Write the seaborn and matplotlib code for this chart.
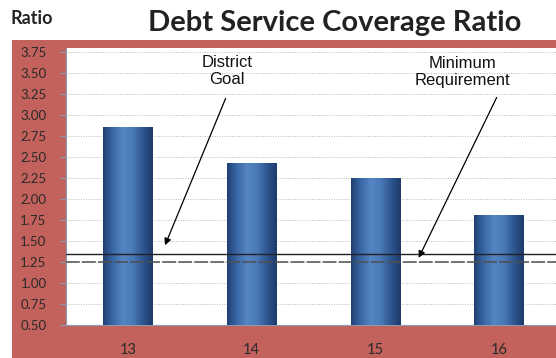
import numpy as np
import pandas as pd
import matplotlib
matplotlib.use("Agg")
import matplotlib.pyplot as plt
import seaborn as sns
from matplotlib.patches import Rectangle
from matplotlib.colors import LinearSegmentedColormap

# Fiscal years and coverage ratios
years = ["13", "14", "15", "16"]
ratios = [2.85, 2.42, 2.25, 1.80]

# Reference levels
district_goal = 1.35
minimum_requirement = 1.25

y_ticks = [0.50, 0.75, 1.00, 1.25, 1.50, 1.75, 2.00, 2.25, 2.50, 2.75, 3.00, 3.25, 3.50, 3.75]

df = pd.DataFrame({"year": years, "ratio": ratios})

sns.set_style("white")
plt.rcParams["font.family"] = ["Lato", "DejaVu Sans"]

fig = plt.figure(figsize=(5.56, 3.58), dpi=100)
fig.patch.set_facecolor("white")

# Red panel behind the chart
fig.patches.append(Rectangle((12 / 556, 0), 1, (358 - 40) / 358,
                             transform=fig.transFigure, facecolor="#c3625c",
                             edgecolor="none", zorder=-5))

ax = fig.add_axes([66 / 556, 33 / 358, 495 / 556, 277 / 358])
ax.set_zorder(2)
ax.set_facecolor("white")

sns.barplot(data=df, x="year", y="ratio", color="#3f6eaf", width=0.4,
            saturation=1, ax=ax, zorder=3)

y_min, y_max = 0.5, 3.80
ax.set_xlim(-0.5, 3.5)
ax.set_ylim(y_min, y_max)

# Cylinder-like shading across each bar (visible part above the axis floor)
shade = LinearSegmentedColormap.from_list(
    "bar_shade", ["#1f3f72", "#3a68a6", "#5585c2", "#4a79b8", "#2d5690", "#1d3a6a"])
grad = np.linspace(0, 1, 256).reshape(1, -1)
for patch in list(ax.patches):
    x0, w = patch.get_x(), patch.get_width()
    top = patch.get_y() + patch.get_height()
    ax.imshow(grad, cmap=shade, aspect="auto",
              extent=[x0, x0 + w, y_min, top], zorder=4)
ax.set_xlim(-0.5, 3.5)
ax.set_ylim(y_min, y_max)

ax.set_yticks(y_ticks)
ax.set_yticklabels([f"{v:.2f}" for v in y_ticks], fontsize=9.5, color="#2a2a2a")
ax.set_xticks(range(len(years)))
ax.set_xticklabels(years, fontsize=10.5, color="#2a2a2a")
ax.tick_params(axis="y", which="both", length=4, color="#8a9bb0", pad=10, left=True)
ax.tick_params(axis="x", length=0, pad=13)
ax.set_xticks([0.5, 1.5, 2.5], minor=True)
ax.tick_params(axis="x", which="minor", length=3, color="#8a9bb0")
ax.set_xlabel("")
ax.set_ylabel("")

for v in y_ticks:
    ax.axhline(v, color="#b8b8b8", lw=0.7, ls=(0, (1, 1.5)), zorder=1)

for s in ["top", "right"]:
    ax.spines[s].set_visible(False)
for s in ["left", "bottom"]:
    ax.spines[s].set_color("#8a9bb0")
    ax.spines[s].set_linewidth(0.8)

ax.axhline(district_goal, color="#222222", lw=1.0, zorder=5)
ax.axhline(minimum_requirement, color="#505050", lw=1.1, ls=(0, (9, 1.5)), zorder=5)

# Callout labels and their arrows
label_kw = dict(ha="center", va="top", fontsize=12, family=["Liberation Sans"],
                linespacing=1.15, color="#111111", zorder=6)
ax.text(0.80, 3.72, "District\nGoal", **label_kw)
ax.text(2.70, 3.70, "Minimum\nRequirement", **label_kw)

arrow_kw = dict(arrowstyle="-|>", color="black", lw=0.9,
                shrinkA=0, shrinkB=0, mutation_scale=10)
ax.annotate("", xy=(0.30, 1.45), xytext=(0.79, 3.20), arrowprops=arrow_kw, zorder=6)
ax.annotate("", xy=(2.35, 1.30), xytext=(2.98, 3.21), arrowprops=arrow_kw, zorder=6)

fig.text(10 / 556, 1 - 19 / 358, "Ratio", fontsize=13, fontweight="bold",
         color="#222222", va="center", ha="left")
fig.text(335 / 556, 1 - 23 / 358, "Debt Service Coverage Ratio", fontsize=21,
         fontweight="bold", color="#222222", va="center", ha="center")

fig.savefig("out.png", dpi=100)
